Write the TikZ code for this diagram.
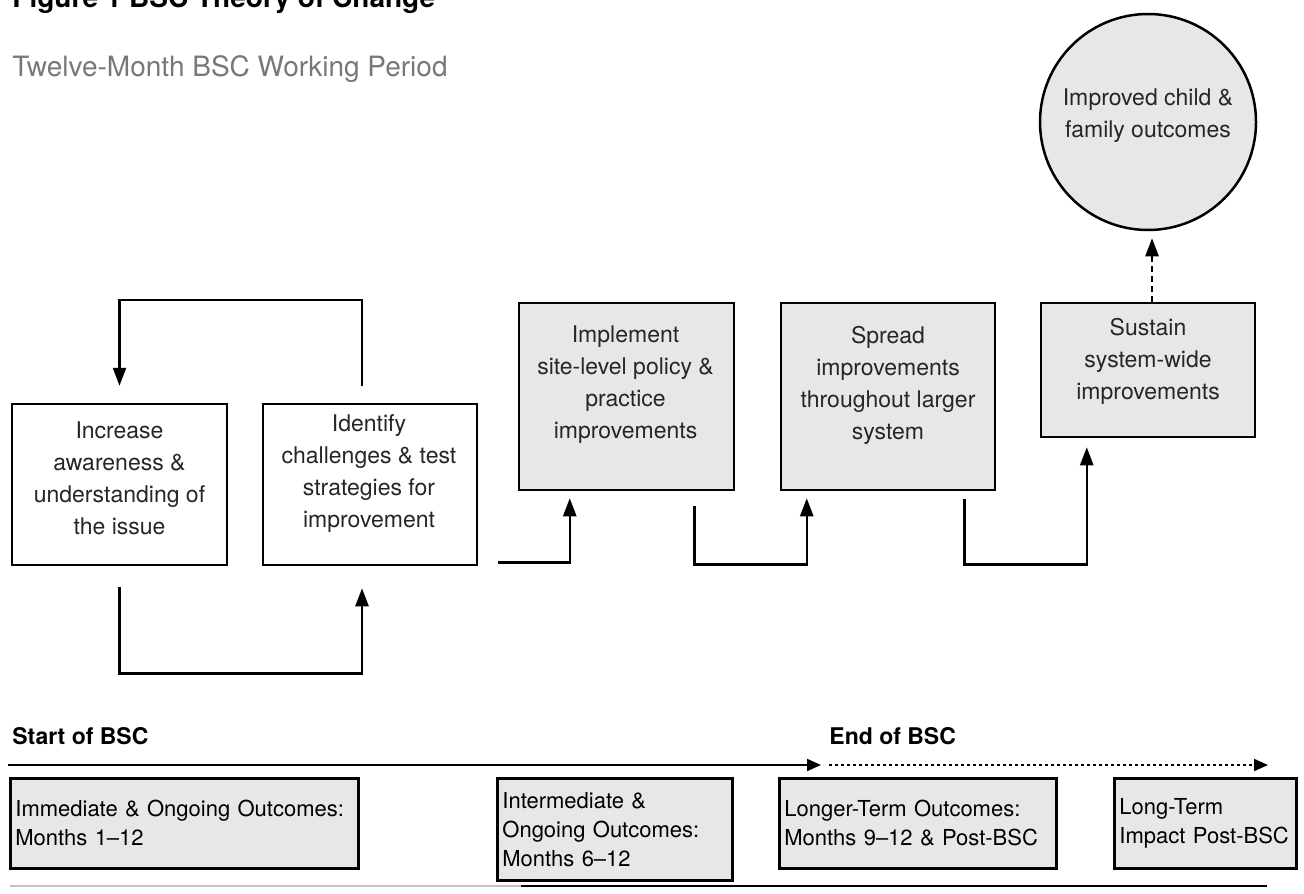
\documentclass[tikz,border=0pt]{standalone}
\usepackage{fontspec}
\setmainfont{TeX Gyre Heros}
\usetikzlibrary{arrows.meta,calc}
\definecolor{boxgray}{RGB}{230,231,232}
\definecolor{subgray}{RGB}{120,120,120}
\definecolor{rulegray}{RGB}{195,195,195}

\tikzset{
  wbox/.style={draw, line width=1.25pt, fill=white, inner sep=0pt},
  gbox/.style={wbox, fill=boxgray},
  boxtext/.style={align=center, inner sep=0pt, text=black!85,
    font=\fontsize{11.5}{16}\selectfont},
  outbox/.style={draw, line width=1.4pt, fill=boxgray, anchor=north west,
    align=left, inner xsep=2.5pt, font=\fontsize{11}{14.5}\selectfont},
  conn/.style={line width=1.25pt, -{Triangle[width=6.5pt,length=9pt]}},
  tline/.style={line width=1pt, -{Triangle[width=6pt,length=7pt]}},
  heading/.style={anchor=base west, inner sep=0pt}
}

\begin{document}
\begin{tikzpicture}[x=0.5pt,y=-0.5pt]
\useasboundingbox (0,0) rectangle (1304,893);

% titles
\node[heading, font=\fontsize{14}{17}\selectfont\bfseries] (title) at (12,8) {Figure 1 BSC Theory of Change};
\node[heading, text=subgray, font=\fontsize{14}{17}\selectfont] (period) at (12,77) {Twelve-Month BSC Working Period};

% boxes
\node[wbox, minimum width=107.5pt, minimum height=80.5pt] (aware) at (119.5,484.5) {};
\node[wbox, minimum width=107pt, minimum height=80.5pt] (ident) at (370,484.5) {};
\node[gbox, minimum width=107.5pt, minimum height=93.5pt] (impl) at (626.5,396.5) {};
\node[gbox, minimum width=107pt, minimum height=93.5pt] (spread) at (888,396.5) {};
\node[gbox, minimum width=107pt, minimum height=67pt] (sustain) at (1148,370) {};
\node[gbox, circle, minimum size=108pt] (outcome) at (1148,122) {};

\node[boxtext] (awaretext) at ($(aware.center)+(0,-6.5)$) {Increase\\awareness \&\\understanding of\\the issue};
\node[boxtext] (identtext) at ($(ident.center)+(-1,-10.5)$) {Identify\\challenges \& test\\strategies for\\improvement};
\node[boxtext] (impltext) at ($(impl.center)+(-1,-11.5)$) {Implement\\site-level policy \&\\practice\\improvements};
\node[boxtext] (spreadtext) at ($(spread.center)+(0,-11.5)$) {Spread\\improvements\\throughout larger\\system};
\node[boxtext] (sustaintext) at ($(sustain.center)+(0,-9)$) {Sustain\\system-wide\\improvements};
\node[boxtext] (outcometext) at ($(outcome.center)+(0,-6.5)$) {Improved child \&\\family outcomes};

% loops and steps
\draw[conn] ($(ident.north)+(-8,-17)$) -- ++(0,-86) -| ($(aware.north)+(0,-17)$);
\draw[conn] ($(aware.south)+(0,21)$) -- ++(0,86) -| ($(ident.south)+(-8,22)$);
\draw[conn] ($(ident.south east)+(20,-4)$) -| ($(impl.south west)+(52,7)$);
\draw[conn] ($(impl.south east)+(-41,15)$) -- ++(0,58) -| ($(spread.south west)+(27,7)$);
\draw[conn] ($(spread.south east)+(-32,8)$) -- ++(0,65) -| ($(sustain.south west)+(47,9)$);
\draw[conn, dash pattern=on 3pt off 2pt] ($(sustain.north)+(4,0)$) -- ($(outcome.south)+(4,7)$);

% timeline
\node[heading, font=\fontsize{11.5}{14}\selectfont\bfseries] (start) at (12,744) {Start of BSC};
\node[heading, font=\fontsize{11.5}{14}\selectfont\bfseries] (end) at (829,744) {End of BSC};
\coordinate (t0) at (8,765);
\coordinate (t1) at (821,765);
\coordinate (t2) at (829,765);
\coordinate (t3) at (1268,765);
\draw[tline] (t0) -- (t1);
\draw[tline, dash pattern=on 1.5pt off 1.5pt] (t2) -- (t3);

\node[outbox, text width=169pt, minimum height=45pt] (immediate) at (9,777) {Immediate \& Ongoing Outcomes:\\Months 1--12};
\node[outbox, text width=112.5pt, minimum height=51pt] (intermediate) at (496,777) {Intermediate \&\\Ongoing Outcomes:\\Months 6--12};
\node[outbox, text width=133.5pt, minimum height=45pt] (longer) at (778,777) {Longer-Term Outcomes:\\Months 9--12 \& Post-BSC};
\node[outbox, text width=86pt, minimum height=45pt] (impact) at (1113,777) {Long-Term\\Impact Post-BSC};

\coordinate (r0) at (10,886);
\coordinate (r1) at (521,886);
\coordinate (r2) at (1267,886);
\draw[rulegray, line width=1pt] (r0) -- (r1);
\draw[line width=1pt] (r1) -- (r2);
\end{tikzpicture}
\end{document}
